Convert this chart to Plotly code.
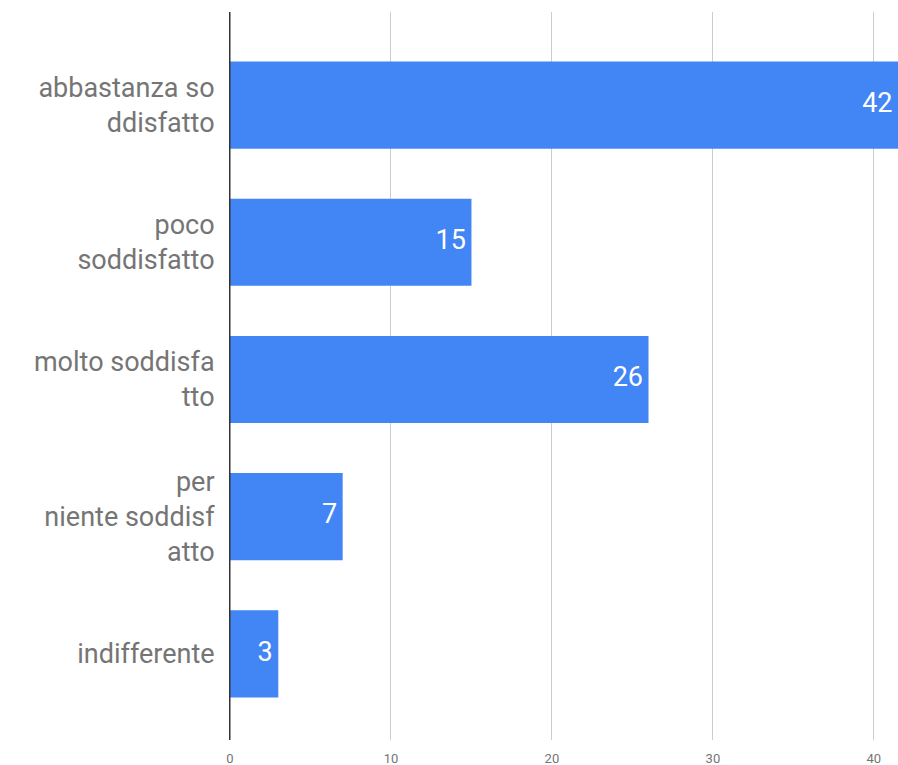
import plotly.graph_objects as go

categories = ["abbastanza so<br>ddisfatto", "poco<br>soddisfatto", "molto soddisfa<br>tto",
              "per<br>niente soddisf<br>atto", "indifferente"]
values = [42, 15, 26, 7, 3]
tick_vals = [0, 10, 20, 30, 40]
x_max = 41.5

fig = go.Figure()
fig.add_trace(go.Bar(
    x=values, y=categories, orientation="h",
    marker=dict(color="#4285F4", line=dict(width=0)),
    width=0.635, hoverinfo="x+y",
))
fig.add_trace(go.Scatter(
    x=[min(v, x_max) for v in values], y=categories, mode="text",
    text=[f"{v}\u2009" for v in values], textposition="middle left",
    textfont=dict(family="Roboto", size=27, color="white"),
    hoverinfo="skip", cliponaxis=False,
))

fig.update_layout(
    width=898, height=765,
    margin=dict(l=230, r=0, t=12, b=25),
    plot_bgcolor="white", paper_bgcolor="white",
    showlegend=False,
    font=dict(family="Roboto"),
)
fig.update_xaxes(
    range=[0, x_max], tickvals=tick_vals, showgrid=True, gridcolor="#cccccc", gridwidth=1,
    zeroline=False, showline=False,
    tickfont=dict(family="Roboto", size=13, color="#757575"),
    ticks="", ticklabelstandoff=9, fixedrange=True,
)
fig.update_yaxes(
    categoryorder="array", categoryarray=categories,
    range=[4.628, -0.679], showgrid=False, zeroline=False,
    showline=True, linecolor="#333333", linewidth=1,
    tickfont=dict(family="Roboto", size=27, color="#757575"),
    ticks="", ticklabelstandoff=9,
)
fig.add_vline(x=0, line_color="#333333", line_width=1)

fig.write_html(
    "out.html",
    config={"displayModeBar": False},
    post_script="document.body.style.margin='0';document.body.style.overflow='hidden';",
)
